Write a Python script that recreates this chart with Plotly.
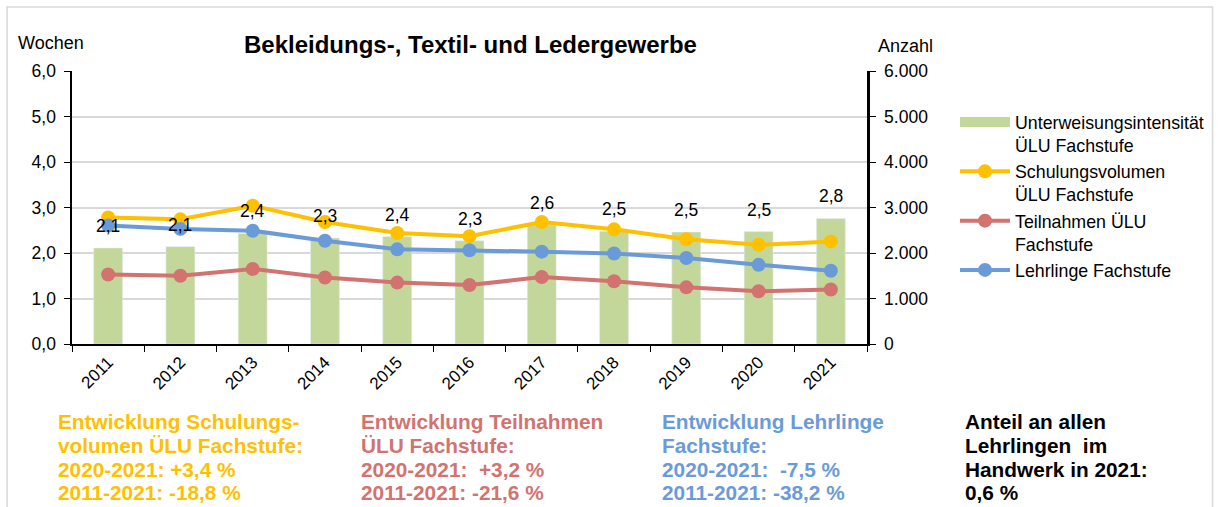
import plotly.graph_objects as go

years = ["2011", "2012", "2013", "2014", "2015", "2016", "2017", "2018", "2019", "2020", "2021"]
intensitaet = [2.11, 2.14, 2.43, 2.33, 2.36, 2.27, 2.62, 2.48, 2.46, 2.47, 2.76]  # Wochen
schulungsvolumen = [2780, 2740, 3040, 2680, 2440, 2370, 2680, 2520, 2300, 2180, 2255]
teilnahmen = [1527, 1500, 1650, 1460, 1350, 1295, 1470, 1380, 1245, 1160, 1197]
lehrlinge = [2605, 2530, 2490, 2270, 2080, 2060, 2030, 1990, 1890, 1740, 1610]

names = [
    "Unterweisungsintensität<br>ÜLU Fachstufe",
    "Schulungsvolumen<br>ÜLU Fachstufe",
    "Teilnahmen ÜLU<br>Fachstufe",
    "Lehrlinge Fachstufe",
]
title_text = "Bekleidungs-, Textil- und Ledergewerbe"
left_title = "Wochen"
right_title = "Anzahl"

text_blocks = [
    ["Entwicklung Schulungs-", "volumen ÜLU Fachstufe:", "2020-2021: +3,4 %", "2011-2021: -18,8 %"],
    ["Entwicklung Teilnahmen", "ÜLU Fachstufe:", "2020-2021:\u00a0 +3,2 %", "2011-2021: -21,6 %"],
    ["Entwicklung Lehrlinge", "Fachstufe:", "2020-2021:\u00a0 -7,5 %", "2011-2021: -38,2 %"],
    ["Anteil an allen", "Lehrlingen\u00a0 im", "Handwerk in 2021:", "0,6 %"],
]

GREEN = "#C4D79B"
YELLOW = "#FFC000"
RED = "#D27370"
BLUE = "#6A9BD8"
block_colors = [YELLOW, RED, BLUE, "#000000"]
FONT = "Liberation Sans, Arial, sans-serif"

# plot area in pixels
L, R, T, B = 72, 868, 71, 344
W, H = 1220, 507


def px_x(p):
    return (p - L) / (R - L)


def px_y(p):
    return (B - p) / (B - T)


fig = go.Figure()
fig.add_trace(go.Bar(x=years, y=intensitaet, name=names[0], marker_color=GREEN,
                     width=0.4, yaxis="y", showlegend=False))
# legend entry for the bars drawn as a wide flat swatch (legend only, no data)
fig.add_trace(go.Scatter(x=[None], y=[None], name=names[0], mode="lines",
                         line=dict(color=GREEN, width=10), yaxis="y"))
for vals, nm, col in [(schulungsvolumen, names[1], YELLOW),
                      (teilnahmen, names[2], RED),
                      (lehrlinge, names[3], BLUE)]:
    fig.add_trace(go.Scatter(x=years, y=vals, name=nm, yaxis="y2", mode="lines+markers",
                             line=dict(color=col, width=4), marker=dict(color=col, size=14)))

annotations = []
for i, v in enumerate(intensitaet):
    annotations.append(dict(x=i, y=v, xref="x", yref="y", yshift=22, showarrow=False,
                            text=f"{v:.1f}".replace(".", ","),
                            font=dict(size=17.5, color="#000000", family=FONT)))

annotations.append(dict(x=px_x(471.5), y=px_y(45), xref="paper", yref="paper", showarrow=False,
                        xanchor="center", yanchor="middle", text="<b>" + title_text + "</b>",
                        font=dict(size=24, color="#000000", family=FONT)))
annotations.append(dict(x=px_x(16), y=px_y(43), xref="paper", yref="paper", showarrow=False,
                        xanchor="left", yanchor="middle", text=left_title,
                        font=dict(size=18, color="#000000", family=FONT)))
annotations.append(dict(x=px_x(877), y=px_y(46), xref="paper", yref="paper", showarrow=False,
                        xanchor="left", yanchor="middle", text=right_title,
                        font=dict(size=18, color="#000000", family=FONT)))

block_x = [56, 359, 661, 964]
line_y = [422, 445.5, 469, 492.5]
for bx, lines, col in zip(block_x, text_blocks, block_colors):
    for ly, t in zip(line_y, lines):
        annotations.append(dict(x=px_x(bx), y=px_y(ly), xref="paper", yref="paper",
                                showarrow=False, xanchor="left", yanchor="middle",
                                text="<b>" + t + "</b>",
                                font=dict(size=20.8, color=col, family=FONT)))

shapes = [dict(type="rect", xref="paper", yref="paper",
               x0=px_x(7), x1=px_x(1214), y0=px_y(520), y1=px_y(7),
               line=dict(color="#D9D9D9", width=1.5), fillcolor="rgba(0,0,0,0)", layer="below")]

fig.update_layout(
    width=W, height=H,
    margin=dict(l=L, r=W - R, t=T, b=H - B, pad=0),
    paper_bgcolor="white", plot_bgcolor="white",
    separators=",.",
    font=dict(family=FONT, size=17.5, color="#000000"),
    showlegend=True,
    legend=dict(x=px_x(955), y=px_y(104), xanchor="left", yanchor="top",
                font=dict(size=17.8, color="#000000", family=FONT),
                valign="top", itemwidth=50, bgcolor="rgba(0,0,0,0)"),
    xaxis=dict(type="category", range=[-0.5, len(years) - 0.5], showline=True,
               linecolor="#000000", linewidth=1.5,
               ticks="outside", tickson="boundaries", ticklen=6, tickcolor="#000000",
               tickangle=-45, tickfont=dict(size=17), showgrid=False),
    yaxis=dict(range=[0, 6], dtick=1, tickformat=".1f", ticksuffix="\u00a0",
               showline=True, linecolor="#000000",
               linewidth=1.5, ticks="outside", ticklen=6, tickcolor="#000000",
               showgrid=True, gridcolor="#D9D9D9", gridwidth=1.5, zeroline=False,
               tickfont=dict(size=17.5)),
    yaxis2=dict(range=[0, 6000], dtick=1000, tickformat=",.0f", tickprefix="\u00a0",
                overlaying="y", side="right",
                showline=True, linecolor="#000000", linewidth=2.5, ticks="outside", ticklen=6,
                tickcolor="#000000", showgrid=False, zeroline=False, tickfont=dict(size=17.5)),
    annotations=annotations,
    shapes=shapes,
)

fig.write_html("out.html", config={"displayModeBar": False},
               post_script="document.body.style.margin='0px';")
